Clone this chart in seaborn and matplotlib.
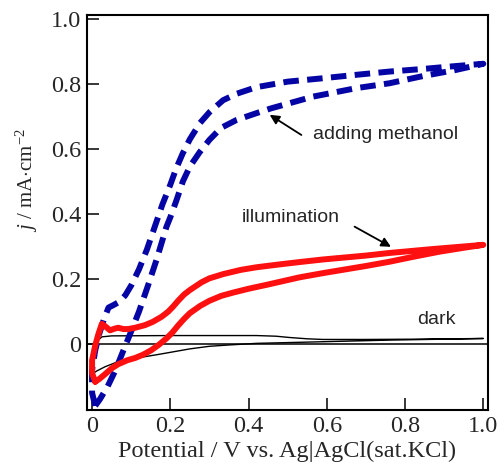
import numpy as np
import pandas as pd
import matplotlib
matplotlib.use("Agg")
import matplotlib.pyplot as plt
import seaborn as sns

# closed CV loops, forward branch then return branch
dark_x = [0.003, 0.0, 0.008, 0.016, 0.025, 0.05, 0.2, 0.42, 0.47, 0.505, 0.55, 0.59, 0.7, 0.85, 1.0,
          0.76, 0.59, 0.42, 0.35, 0.3, 0.25, 0.17, 0.11, 0.067, 0.033, 0.012, 0.003]
dark_y = [-0.09, -0.05, -0.01, 0.012, 0.022, 0.025, 0.026, 0.026, 0.024, 0.02, 0.016, 0.014, 0.014, 0.015, 0.017,
          0.012, 0.007, 0.002, -0.003, -0.007, -0.015, -0.032, -0.044, -0.054, -0.07, -0.083, -0.09]

illum_x = [0.008, 0.0, 0.0, 0.008, 0.016, 0.025, 0.033, 0.046, 0.057, 0.067, 0.08, 0.092, 0.11,
           0.135, 0.155, 0.178, 0.195, 0.207, 0.22, 0.235, 0.25, 0.265, 0.28, 0.3, 0.335, 0.38,
           0.42, 0.48, 0.53, 0.59, 0.7, 0.76, 0.87, 1.0,
           0.95, 0.888, 0.82, 0.76, 0.70, 0.59, 0.53, 0.446, 0.4, 0.36, 0.33, 0.3, 0.276, 0.25,
           0.235, 0.22, 0.205, 0.19, 0.17, 0.15, 0.13, 0.11, 0.09, 0.067, 0.05, 0.033, 0.018, 0.008]
illum_y = [-0.116, -0.09, -0.05, -0.005, 0.03, 0.062, 0.055, 0.042, 0.047, 0.05, 0.046, 0.046, 0.05,
           0.058, 0.068, 0.084, 0.1, 0.115, 0.133, 0.152, 0.166, 0.178, 0.19, 0.202, 0.215, 0.228,
           0.236, 0.245, 0.252, 0.26, 0.272, 0.28, 0.292, 0.305,
           0.296, 0.284, 0.268, 0.253, 0.24, 0.218, 0.205, 0.182, 0.17, 0.158, 0.148, 0.133, 0.117, 0.095,
           0.077, 0.057, 0.035, 0.017, -0.003, -0.02, -0.033, -0.043, -0.05, -0.062, -0.075, -0.093, -0.108, -0.116]

meoh_x = [0.008, 0.0, 0.0, 0.008, 0.018, 0.03, 0.042, 0.055, 0.07, 0.085, 0.1, 0.12, 0.14, 0.16,
          0.18, 0.2, 0.215, 0.232, 0.25, 0.276, 0.3, 0.335, 0.37, 0.42, 0.5, 0.586, 0.675, 0.76,
          0.845, 0.93, 1.0,
          0.93, 0.845, 0.76, 0.675, 0.565, 0.458, 0.42, 0.369, 0.33, 0.30, 0.275, 0.25, 0.232,
          0.216, 0.2, 0.19, 0.165, 0.143, 0.12, 0.097, 0.08, 0.06, 0.04, 0.02, 0.008]
meoh_y = [-0.19, -0.15, -0.08, -0.02, 0.03, 0.075, 0.112, 0.12, 0.13, 0.15, 0.18, 0.23, 0.29, 0.36,
          0.43, 0.49, 0.54, 0.587, 0.63, 0.68, 0.713, 0.75, 0.77, 0.79, 0.807, 0.817, 0.828, 0.838,
          0.846, 0.855, 0.862,
          0.843, 0.824, 0.802, 0.787, 0.761, 0.725, 0.71, 0.689, 0.665, 0.628, 0.59, 0.546, 0.5,
          0.443, 0.39, 0.36, 0.26, 0.18, 0.1, 0.03, -0.02, -0.08, -0.13, -0.17, -0.19]

xticks = [0, 0.2, 0.4, 0.6, 0.8, 1.0]
xticklabels = ["0", "0.2", "0.4", "0.6", "0.8", "1.0"]
yticks = [0, 0.2, 0.4, 0.6, 0.8, 1.0]
yticklabels = ["0", "0.2", "0.4", "0.6", "0.8", "1.0"]

sns.set_style("ticks")
plt.rcParams['font.family'] = ['Liberation Serif', 'DejaVu Serif']
plt.rcParams['mathtext.fontset'] = 'custom'
plt.rcParams['mathtext.rm'] = 'Liberation Serif'
plt.rcParams['mathtext.it'] = 'Liberation Serif:italic'

def loop(x, y):
    return pd.DataFrame({'E': x, 'j': y, 'i': np.arange(len(x))})

fig = plt.figure(figsize=(5.04, 4.69), dpi=100)
ax = fig.add_axes([0.1726, 0.1258, 0.7956, 0.8422])

ax.axhline(0, color='black', lw=1.1, zorder=1)
sns.lineplot(data=loop(dark_x, dark_y), x='E', y='j', sort=False, estimator=None,
             color='black', lw=1.0, ax=ax)
sns.lineplot(data=loop(meoh_x, meoh_y), x='E', y='j', sort=False, estimator=None,
             color='#0505a5', lw=4.3, ax=ax, dash_joinstyle='round')
ax.lines[-1].set_dashes((2.6, 1.4))
sns.lineplot(data=loop(illum_x, illum_y), x='E', y='j', sort=False, estimator=None,
             color='#ff1010', lw=4.3, ax=ax, solid_joinstyle='round')

ax.set_xlim(-0.013, 1.012)
ax.set_ylim(-0.203, 1.012)
ax.set_xticks(xticks)
ax.set_xticklabels(xticklabels)
ax.set_yticks(yticks)
ax.set_yticklabels(yticklabels)
ax.tick_params(direction='in', length=8.5, width=1.3, labelsize=17.5, pad=4)
for s in ax.spines.values():
    s.set_linewidth(1.5)
    s.set_color('black')

ax.set_xlabel("Potential / V vs. Ag|AgCl(sat.KCl)", fontsize=17.5, labelpad=3)
ax.set_ylabel(r"$j$ / mA$\cdot$cm$^{-2}$", fontsize=15)
ax.yaxis.set_label_coords(-0.118, 0.582)

arrow = dict(arrowstyle='-|>', color='black', lw=1.3, mutation_scale=14, shrinkA=0, shrinkB=0)
ax.annotate("", xy=(0.454, 0.705), xytext=(0.535, 0.643), arrowprops=arrow)
ax.annotate("", xy=(0.764, 0.299), xytext=(0.671, 0.361), arrowprops=arrow)
ax.text(0.564, 0.643, "adding methanol", family='Liberation Sans', fontsize=14, va='center')
ax.text(0.383, 0.388, "illumination", family='Liberation Sans', fontsize=14, va='center')
ax.text(0.832, 0.074, "dark", family='Liberation Sans', fontsize=14, va='center')

fig.savefig("out.png", dpi=100)
